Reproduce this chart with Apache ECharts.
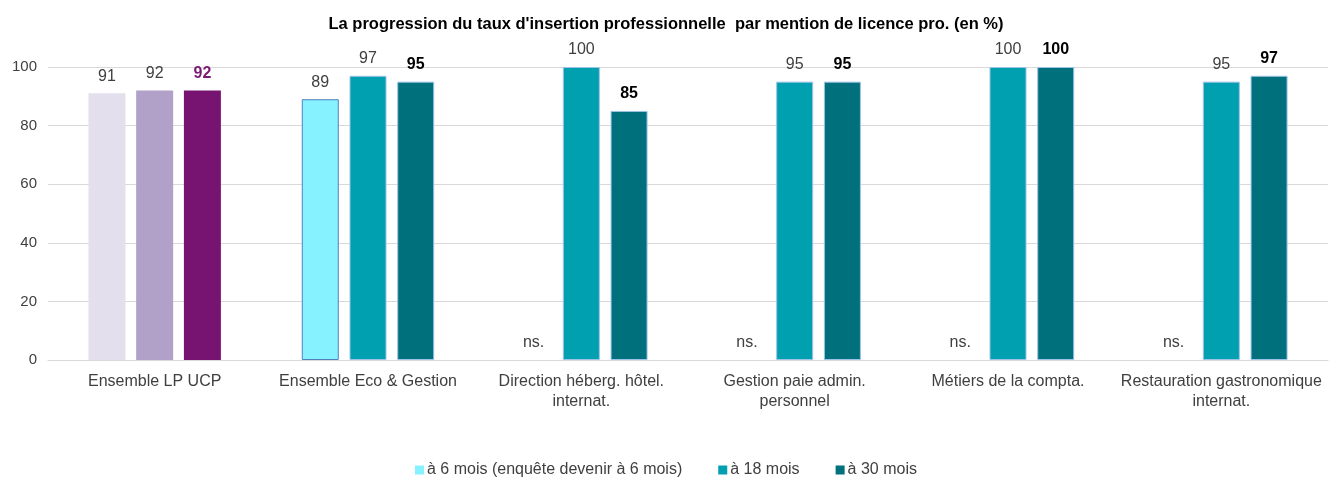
<!DOCTYPE html>
<html>
<head>
<meta charset="utf-8">
<script src="https://cdn.jsdelivr.net/npm/echarts@6/dist/echarts.min.js"></script>
<style>
  html, body { margin: 0; padding: 0; background: #fff; }
  #chart { width: 1332px; height: 477px; }
</style>
</head>
<body>
<div id="chart"></div>
<script>
// données
const categories = [
  "Ensemble LP UCP",
  "Ensemble Eco & Gestion",
  "Direction héberg. hôtel.\ninternat.",
  "Gestion paie admin.\npersonnel",
  "Métiers de la compta.",
  "Restauration gastronomique\ninternat."
];
const seriesNames = ["à 6 mois (enquête devenir à 6 mois)", "à 18 mois", "à 30 mois"];
const mois6 = [91, 89, null, null, null, null]; // null = ns.
const mois18 = [92, 97, 100, 95, 100, 95];
const mois30 = [92, 95, 85, 95, 100, 97];
const yTicks = [0, 20, 40, 60, 80, 100];

// couleurs
const COLORS = ["#86F1FF", "#00A0B0", "#00717C"];
const UCP_COLORS = ["#E4DFEC", "#B1A0C7", "#771472"];
const FONT = "Liberation Sans, Arial, sans-serif";

const chart = echarts.init(document.getElementById("chart"));

const buildData = (values, idx) =>
  values.map((v, i) => {
    if (v === null) {
      // valeur non significative : pas de barre, juste le texte "ns."
      return {
        value: 0,
        itemStyle: { color: "transparent", borderWidth: 0 },
        label: { formatter: "ns.", fontWeight: "normal", color: "#404040" }
      };
    }
    if (i === 0) {
      // Ensemble LP UCP : palette violette
      const item = { value: v, itemStyle: { color: UCP_COLORS[idx], borderWidth: 0 } };
      if (idx === 2) item.label = { color: "#7B1A73" };
      return item;
    }
    return v;
  });

const makeSeries = (values, idx) => ({
  name: seriesNames[idx],
  type: "bar",
  barWidth: 37,
  barGap: "29%",
  data: buildData(values, idx),
  itemStyle: {
    color: COLORS[idx],
    borderColor: idx === 0 ? "#4F81BD" : "#9DC3E6",
    borderWidth: 1
  },
  label: {
    show: true,
    position: "top",
    distance: 9,
    fontFamily: FONT,
    fontSize: 16,
    fontWeight: idx === 2 ? "bold" : "normal",
    color: idx === 2 ? "#000" : "#404040"
  }
});

chart.setOption({
  animation: false,
  textStyle: { fontFamily: FONT },
  title: {
    text: "La progression du taux d'insertion professionnelle  par mention de licence pro. (en %)",
    left: "center",
    top: 11,
    textStyle: { fontFamily: FONT, fontSize: 16.5, fontWeight: "bold", color: "#000" }
  },
  legend: {
    top: 457,
    left: "center",
    itemWidth: 9,
    itemHeight: 9,
    itemGap: 36,
    icon: "rect",
    itemStyle: { borderWidth: 0 },
    textStyle: { fontFamily: FONT, fontSize: 16, color: "#404040", padding: [0, 0, 0, -2] },
    data: seriesNames
  },
  grid: { left: 48, right: 4, top: 67, bottom: 117 },
  xAxis: {
    type: "category",
    data: categories,
    axisLine: { show: true, lineStyle: { color: "#D9D9D9", width: 1 } },
    axisTick: { show: false },
    axisLabel: {
      fontFamily: FONT,
      fontSize: 16,
      color: "#404040",
      interval: 0,
      margin: 12,
      lineHeight: 20
    }
  },
  yAxis: {
    type: "value",
    min: yTicks[0],
    max: yTicks[yTicks.length - 1],
    interval: yTicks[1] - yTicks[0],
    axisLine: { show: false },
    axisTick: { show: false },
    splitLine: { lineStyle: { color: "#D9D9D9", width: 1 } },
    axisLabel: { fontFamily: FONT, fontSize: 15, color: "#404040", margin: 11 }
  },
  series: [makeSeries(mois6, 0), makeSeries(mois18, 1), makeSeries(mois30, 2)]
});
</script>
</body>
</html>
